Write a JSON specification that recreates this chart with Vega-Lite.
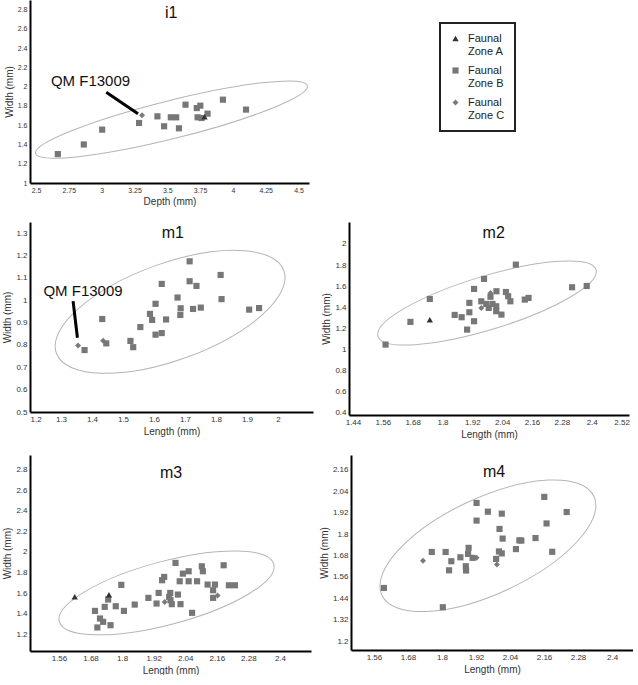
{
  "$schema": "https://vega.github.io/schema/vega-lite/v6.json",
  "padding": {"left": 2, "top": 0, "right": 0, "bottom": 0},
  "background": "white",
  "datasets": {
    "teeth": [
      {"panel": "i1", "zone": "B", "x": 2.666, "y": 1.30},
      {"panel": "i1", "zone": "B", "x": 2.864, "y": 1.40},
      {"panel": "i1", "zone": "B", "x": 3.004, "y": 1.554},
      {"panel": "i1", "zone": "B", "x": 3.285, "y": 1.623},
      {"panel": "i1", "zone": "C", "x": 3.308, "y": 1.703},
      {"panel": "i1", "zone": "B", "x": 3.425, "y": 1.692},
      {"panel": "i1", "zone": "B", "x": 3.476, "y": 1.589},
      {"panel": "i1", "zone": "B", "x": 3.527, "y": 1.682},
      {"panel": "i1", "zone": "B", "x": 3.568, "y": 1.682},
      {"panel": "i1", "zone": "B", "x": 3.589, "y": 1.568},
      {"panel": "i1", "zone": "B", "x": 3.639, "y": 1.813},
      {"panel": "i1", "zone": "B", "x": 3.725, "y": 1.778},
      {"panel": "i1", "zone": "B", "x": 3.752, "y": 1.803},
      {"panel": "i1", "zone": "B", "x": 3.731, "y": 1.682},
      {"panel": "i1", "zone": "B", "x": 3.761, "y": 1.675},
      {"panel": "i1", "zone": "B", "x": 3.807, "y": 1.72},
      {"panel": "i1", "zone": "A", "x": 3.784, "y": 1.689},
      {"panel": "i1", "zone": "B", "x": 3.924, "y": 1.865},
      {"panel": "i1", "zone": "B", "x": 4.10, "y": 1.762},

      {"panel": "m1", "zone": "C", "x": 1.355, "y": 0.797},
      {"panel": "m1", "zone": "B", "x": 1.376, "y": 0.777},
      {"panel": "m1", "zone": "B", "x": 1.433, "y": 0.916},
      {"panel": "m1", "zone": "C", "x": 1.436, "y": 0.819},
      {"panel": "m1", "zone": "B", "x": 1.446, "y": 0.807},
      {"panel": "m1", "zone": "B", "x": 1.524, "y": 0.818},
      {"panel": "m1", "zone": "B", "x": 1.533, "y": 0.790},
      {"panel": "m1", "zone": "B", "x": 1.556, "y": 0.880},
      {"panel": "m1", "zone": "B", "x": 1.587, "y": 0.939},
      {"panel": "m1", "zone": "B", "x": 1.594, "y": 0.912},
      {"panel": "m1", "zone": "B", "x": 1.605, "y": 0.984},
      {"panel": "m1", "zone": "B", "x": 1.605, "y": 0.846},
      {"panel": "m1", "zone": "B", "x": 1.625, "y": 1.073},
      {"panel": "m1", "zone": "B", "x": 1.625, "y": 0.853},
      {"panel": "m1", "zone": "B", "x": 1.639, "y": 0.914},
      {"panel": "m1", "zone": "B", "x": 1.676, "y": 1.012},
      {"panel": "m1", "zone": "B", "x": 1.686, "y": 0.964},
      {"panel": "m1", "zone": "B", "x": 1.685, "y": 0.934},
      {"panel": "m1", "zone": "B", "x": 1.715, "y": 1.174},
      {"panel": "m1", "zone": "B", "x": 1.715, "y": 1.085},
      {"panel": "m1", "zone": "B", "x": 1.726, "y": 0.961},
      {"panel": "m1", "zone": "B", "x": 1.737, "y": 1.064},
      {"panel": "m1", "zone": "B", "x": 1.751, "y": 0.967},
      {"panel": "m1", "zone": "B", "x": 1.815, "y": 1.113},
      {"panel": "m1", "zone": "B", "x": 1.818, "y": 1.005},
      {"panel": "m1", "zone": "B", "x": 1.907, "y": 0.958},
      {"panel": "m1", "zone": "B", "x": 1.939, "y": 0.965},

      {"panel": "m2", "zone": "B", "x": 1.571, "y": 1.047},
      {"panel": "m2", "zone": "B", "x": 1.671, "y": 1.262},
      {"panel": "m2", "zone": "B", "x": 1.749, "y": 1.479},
      {"panel": "m2", "zone": "A", "x": 1.749, "y": 1.282},
      {"panel": "m2", "zone": "B", "x": 1.849, "y": 1.328},
      {"panel": "m2", "zone": "B", "x": 1.877, "y": 1.306},
      {"panel": "m2", "zone": "B", "x": 1.899, "y": 1.189},
      {"panel": "m2", "zone": "B", "x": 1.908, "y": 1.353},
      {"panel": "m2", "zone": "B", "x": 1.908, "y": 1.442},
      {"panel": "m2", "zone": "B", "x": 1.927, "y": 1.574},
      {"panel": "m2", "zone": "B", "x": 1.927, "y": 1.268},
      {"panel": "m2", "zone": "C", "x": 1.956, "y": 1.394},
      {"panel": "m2", "zone": "B", "x": 1.956, "y": 1.457},
      {"panel": "m2", "zone": "B", "x": 1.967, "y": 1.669},
      {"panel": "m2", "zone": "B", "x": 1.976, "y": 1.432},
      {"panel": "m2", "zone": "B", "x": 1.986, "y": 1.394},
      {"panel": "m2", "zone": "C", "x": 1.993, "y": 1.535},
      {"panel": "m2", "zone": "B", "x": 1.993, "y": 1.50},
      {"panel": "m2", "zone": "B", "x": 2.001, "y": 1.432},
      {"panel": "m2", "zone": "B", "x": 2.016, "y": 1.410},
      {"panel": "m2", "zone": "B", "x": 2.017, "y": 1.552},
      {"panel": "m2", "zone": "B", "x": 2.016, "y": 1.363},
      {"panel": "m2", "zone": "B", "x": 2.037, "y": 1.331},
      {"panel": "m2", "zone": "B", "x": 2.055, "y": 1.545},
      {"panel": "m2", "zone": "B", "x": 2.064, "y": 1.505},
      {"panel": "m2", "zone": "B", "x": 2.073, "y": 1.457},
      {"panel": "m2", "zone": "B", "x": 2.095, "y": 1.804},
      {"panel": "m2", "zone": "B", "x": 2.131, "y": 1.473},
      {"panel": "m2", "zone": "B", "x": 2.146, "y": 1.489},
      {"panel": "m2", "zone": "B", "x": 2.321, "y": 1.590},
      {"panel": "m2", "zone": "B", "x": 2.380, "y": 1.602},

      {"panel": "m3", "zone": "B", "x": 1.697, "y": 1.429},
      {"panel": "m3", "zone": "B", "x": 1.706, "y": 1.268},
      {"panel": "m3", "zone": "B", "x": 1.716, "y": 1.355},
      {"panel": "m3", "zone": "B", "x": 1.728, "y": 1.323},
      {"panel": "m3", "zone": "B", "x": 1.734, "y": 1.468},
      {"panel": "m3", "zone": "B", "x": 1.747, "y": 1.539},
      {"panel": "m3", "zone": "B", "x": 1.756, "y": 1.290},
      {"panel": "m3", "zone": "B", "x": 1.776, "y": 1.474},
      {"panel": "m3", "zone": "B", "x": 1.797, "y": 1.681},
      {"panel": "m3", "zone": "B", "x": 1.807, "y": 1.429},
      {"panel": "m3", "zone": "B", "x": 1.848, "y": 1.490},
      {"panel": "m3", "zone": "B", "x": 1.900, "y": 1.555},
      {"panel": "m3", "zone": "B", "x": 1.931, "y": 1.500},
      {"panel": "m3", "zone": "B", "x": 1.939, "y": 1.603},
      {"panel": "m3", "zone": "B", "x": 1.952, "y": 1.726},
      {"panel": "m3", "zone": "B", "x": 1.960, "y": 1.758},
      {"panel": "m3", "zone": "C", "x": 1.962, "y": 1.516},
      {"panel": "m3", "zone": "B", "x": 1.979, "y": 1.565},
      {"panel": "m3", "zone": "B", "x": 1.983, "y": 1.603},
      {"panel": "m3", "zone": "B", "x": 1.984, "y": 1.532},
      {"panel": "m3", "zone": "B", "x": 1.989, "y": 1.494},
      {"panel": "m3", "zone": "B", "x": 2.003, "y": 1.894},
      {"panel": "m3", "zone": "B", "x": 2.012, "y": 1.587},
      {"panel": "m3", "zone": "B", "x": 2.019, "y": 1.716},
      {"panel": "m3", "zone": "B", "x": 2.022, "y": 1.494},
      {"panel": "m3", "zone": "B", "x": 2.031, "y": 1.790},
      {"panel": "m3", "zone": "B", "x": 2.053, "y": 1.813},
      {"panel": "m3", "zone": "B", "x": 2.053, "y": 1.716},
      {"panel": "m3", "zone": "B", "x": 2.066, "y": 1.410},
      {"panel": "m3", "zone": "B", "x": 2.085, "y": 1.716},
      {"panel": "m3", "zone": "B", "x": 2.103, "y": 1.861},
      {"panel": "m3", "zone": "B", "x": 2.107, "y": 1.813},
      {"panel": "m3", "zone": "B", "x": 2.125, "y": 1.684},
      {"panel": "m3", "zone": "B", "x": 2.146, "y": 1.629},
      {"panel": "m3", "zone": "B", "x": 2.153, "y": 1.684},
      {"panel": "m3", "zone": "B", "x": 2.146, "y": 1.555},
      {"panel": "m3", "zone": "C", "x": 2.163, "y": 1.577},
      {"panel": "m3", "zone": "B", "x": 2.186, "y": 1.871},
      {"panel": "m3", "zone": "B", "x": 2.206, "y": 1.677},
      {"panel": "m3", "zone": "B", "x": 2.229, "y": 1.677},
      {"panel": "m3", "zone": "A", "x": 1.620, "y": 1.565},
      {"panel": "m3", "zone": "A", "x": 1.750, "y": 1.585},

      {"panel": "m4", "zone": "B", "x": 1.595, "y": 1.498},
      {"panel": "m4", "zone": "C", "x": 1.733, "y": 1.651},
      {"panel": "m4", "zone": "B", "x": 1.764, "y": 1.700},
      {"panel": "m4", "zone": "B", "x": 1.803, "y": 1.390},
      {"panel": "m4", "zone": "B", "x": 1.813, "y": 1.700},
      {"panel": "m4", "zone": "B", "x": 1.825, "y": 1.597},
      {"panel": "m4", "zone": "B", "x": 1.833, "y": 1.648},
      {"panel": "m4", "zone": "B", "x": 1.865, "y": 1.670},
      {"panel": "m4", "zone": "B", "x": 1.884, "y": 1.620},
      {"panel": "m4", "zone": "B", "x": 1.885, "y": 1.596},
      {"panel": "m4", "zone": "B", "x": 1.894, "y": 1.723},
      {"panel": "m4", "zone": "B", "x": 1.892, "y": 1.689},
      {"panel": "m4", "zone": "C", "x": 1.922, "y": 1.667},
      {"panel": "m4", "zone": "B", "x": 1.908, "y": 1.667},
      {"panel": "m4", "zone": "B", "x": 1.922, "y": 1.975},
      {"panel": "m4", "zone": "B", "x": 1.922, "y": 1.876},
      {"panel": "m4", "zone": "B", "x": 1.962, "y": 1.926},
      {"panel": "m4", "zone": "C", "x": 1.994, "y": 1.629},
      {"panel": "m4", "zone": "B", "x": 1.991, "y": 1.661},
      {"panel": "m4", "zone": "B", "x": 2.003, "y": 1.829},
      {"panel": "m4", "zone": "B", "x": 2.001, "y": 1.703},
      {"panel": "m4", "zone": "B", "x": 2.011, "y": 1.915},
      {"panel": "m4", "zone": "B", "x": 2.014, "y": 1.775},
      {"panel": "m4", "zone": "B", "x": 2.011, "y": 1.692},
      {"panel": "m4", "zone": "B", "x": 2.061, "y": 1.716},
      {"panel": "m4", "zone": "B", "x": 2.073, "y": 1.765},
      {"panel": "m4", "zone": "B", "x": 2.080, "y": 1.764},
      {"panel": "m4", "zone": "B", "x": 2.130, "y": 1.778},
      {"panel": "m4", "zone": "B", "x": 2.161, "y": 2.009},
      {"panel": "m4", "zone": "B", "x": 2.169, "y": 1.860},
      {"panel": "m4", "zone": "B", "x": 2.189, "y": 1.701},
      {"panel": "m4", "zone": "B", "x": 2.240, "y": 1.924}
    ],
    "ellipses": [
      {"panel": "i1", "x": 3.532, "y": 1.658},
      {"panel": "m1", "x": 1.652, "y": 0.948},
      {"panel": "m2", "x": 1.979, "y": 1.441},
      {"panel": "m3", "x": 1.969, "y": 1.603},
      {"panel": "m4", "x": 1.962, "y": 1.735}
    ],
    "notes": [
      {"panel": "i1", "label": "QM F13009", "x": 2.915, "y": 2.056},
      {"panel": "m1", "label": "QM F13009", "x": 1.371, "y": 1.04}
    ],
    "pointers": [
      {"panel": "i1", "x": 3.035, "y": 1.942, "x2": 3.277, "y2": 1.72},
      {"panel": "m1", "x": 1.339, "y": 0.996, "x2": 1.353, "y2": 0.832}
    ],
    "panels": [
      {"panel": "i1", "x": 3.53, "y": 2.765},
      {"panel": "m1", "x": 1.661, "y": 1.30},
      {"panel": "m2", "x": 2.006, "y": 2.106},
      {"panel": "m3", "x": 1.986, "y": 2.766},
      {"panel": "m4", "x": 1.984, "y": 2.148}
    ]
  },
  "vconcat": [
    {
      "hconcat": [
        {
          "width": 279, "height": 183,
          "encoding": {
            "x": {"field": "x", "type": "quantitative", "scale": {"domain": [2.454, 4.58], "nice": false, "zero": false},
                  "axis": {"title": "Depth (mm)", "values": [2.5, 2.75, 3, 3.25, 3.5, 3.75, 4, 4.25, 4.5], "labelExpr": "'' + datum.value", "labelFontSize": 7}},
            "y": {"field": "y", "type": "quantitative", "scale": {"domain": [1, 2.9], "nice": false, "zero": false},
                  "axis": {"title": "Width (mm)", "values": [1, 1.2, 1.4, 1.6, 1.8, 2, 2.2, 2.4, 2.6, 2.8], "labelExpr": "'' + datum.value", "labelFontSize": 7}}
          },
          "layer": [
            {"data": {"name": "ellipses"}, "transform": [{"filter": "datum.panel === 'i1'"}],
             "mark": {"type": "point", "clip": true, "shape": "M-1,0C-1,-0.0751,-0.5523,-0.136,0,-0.136C0.5523,-0.136,1,-0.0751,1,0C1,0.0751,0.5523,0.136,0,0.136C-0.5523,0.136,-1,0.0751,-1,0Z", "size": 78400, "angle": 346, "filled": false, "stroke": "#b5b5b5", "strokeWidth": 1, "opacity": 1}},
            {"data": {"name": "teeth"}, "transform": [{"filter": "datum.panel === 'i1'"}],
             "mark": {"type": "point", "filled": true, "opacity": 1},
             "encoding": {
               "shape": {"field": "zone", "type": "nominal", "scale": {"domain": ["A", "B", "C"], "range": ["triangle-up", "square", "diamond"]},
                         "legend": {"title": null, "orient": "none", "legendX": 410, "legendY": 23, "labelExpr": "['Faunal', 'Zone ' + datum.label]"}},
               "color": {"field": "zone", "type": "nominal", "scale": {"domain": ["A", "B", "C"], "range": ["#333333", "#777777", "#7a7a7a"]},
                         "legend": {"title": null, "orient": "none", "legendX": 410, "legendY": 23, "labelExpr": "['Faunal', 'Zone ' + datum.label]"}},
               "size": {"field": "zone", "type": "nominal", "scale": {"domain": ["A", "B", "C"], "range": [40, 36, 24]}, "legend": null}
             }},
            {"data": {"name": "pointers"}, "transform": [{"filter": "datum.panel === 'i1'"}],
             "mark": {"type": "rule", "strokeWidth": 3, "color": "#000"},
             "encoding": {"x2": {"field": "x2"}, "y2": {"field": "y2"}}},
            {"data": {"name": "notes"}, "transform": [{"filter": "datum.panel === 'i1'"}],
             "mark": {"type": "text", "fontSize": 15, "font": "Liberation Sans", "color": "#111"},
             "encoding": {"text": {"field": "label"}}},
            {"data": {"name": "panels"}, "transform": [{"filter": "datum.panel === 'i1'"}],
             "mark": {"type": "text", "fontSize": 16, "font": "Liberation Sans", "color": "#111"},
             "encoding": {"text": {"field": "panel"}}}
          ]
        }
      ]
    },
    {
      "spacing": 8,
      "hconcat": [
        {
          "width": 283, "height": 190,
          "encoding": {
            "x": {"field": "x", "type": "quantitative", "scale": {"domain": [1.2, 2.113], "nice": false, "zero": false},
                  "axis": {"title": "Length (mm)", "values": [1.2, 1.3, 1.4, 1.5, 1.6, 1.7, 1.8, 1.9, 2], "labelExpr": "'' + datum.value"}},
            "y": {"field": "y", "type": "quantitative", "scale": {"domain": [0.5, 1.35], "nice": false, "zero": false},
                  "axis": {"title": "Width (mm)", "values": [0.5, 0.6, 0.7, 0.8, 0.9, 1, 1.1, 1.2, 1.3], "labelExpr": "'' + datum.value"}}
          },
          "layer": [
            {"data": {"name": "ellipses"}, "transform": [{"filter": "datum.panel === 'm1'"}],
             "mark": {"type": "point", "clip": true, "shape": "M-1,0C-1,-0.2209,-0.5523,-0.4,0,-0.4C0.5523,-0.4,1,-0.2209,1,0C1,0.2209,0.5523,0.4,0,0.4C-0.5523,0.4,-1,0.2209,-1,0Z", "size": 58564, "angle": 340, "filled": false, "stroke": "#b5b5b5", "strokeWidth": 1, "opacity": 1}},
            {"data": {"name": "teeth"}, "transform": [{"filter": "datum.panel === 'm1'"}],
             "mark": {"type": "point", "filled": true, "opacity": 1},
             "encoding": {
               "shape": {"field": "zone", "type": "nominal", "scale": {"domain": ["A", "B", "C"], "range": ["triangle-up", "square", "diamond"]}},
               "color": {"field": "zone", "type": "nominal", "scale": {"domain": ["A", "B", "C"], "range": ["#333333", "#777777", "#7a7a7a"]}},
               "size": {"field": "zone", "type": "nominal", "scale": {"domain": ["A", "B", "C"], "range": [40, 42, 24]}, "legend": null}
             }},
            {"data": {"name": "pointers"}, "transform": [{"filter": "datum.panel === 'm1'"}],
             "mark": {"type": "rule", "strokeWidth": 3, "color": "#000"},
             "encoding": {"x2": {"field": "x2"}, "y2": {"field": "y2"}}},
            {"data": {"name": "notes"}, "transform": [{"filter": "datum.panel === 'm1'"}],
             "mark": {"type": "text", "fontSize": 15, "font": "Liberation Sans", "color": "#111"},
             "encoding": {"text": {"field": "label"}}},
            {"data": {"name": "panels"}, "transform": [{"filter": "datum.panel === 'm1'"}],
             "mark": {"type": "text", "fontSize": 16, "font": "Liberation Sans", "color": "#111"},
             "encoding": {"text": {"field": "panel"}}}
          ]
        },
        {
          "width": 280, "height": 193,
          "encoding": {
            "x": {"field": "x", "type": "quantitative", "scale": {"domain": [1.424, 2.55], "nice": false, "zero": false},
                  "axis": {"title": "Length (mm)", "values": [1.44, 1.56, 1.68, 1.8, 1.92, 2.04, 2.16, 2.28, 2.4, 2.52], "labelExpr": "'' + datum.value"}},
            "y": {"field": "y", "type": "quantitative", "scale": {"domain": [0.38, 2.208], "nice": false, "zero": false},
                  "axis": {"title": "Width (mm)", "values": [0.4, 0.6, 0.8, 1, 1.2, 1.4, 1.6, 1.8, 2], "labelExpr": "'' + datum.value"}}
          },
          "layer": [
            {"data": {"name": "ellipses"}, "transform": [{"filter": "datum.panel === 'm2'"}],
             "mark": {"type": "point", "clip": true, "shape": "M-1,0C-1,-0.1298,-0.5523,-0.235,0,-0.235C0.5523,-0.235,1,-0.1298,1,0C1,0.1298,0.5523,0.235,0,0.235C-0.5523,0.235,-1,0.1298,-1,0Z", "size": 51984, "angle": 343, "filled": false, "stroke": "#b5b5b5", "strokeWidth": 1, "opacity": 1}},
            {"data": {"name": "teeth"}, "transform": [{"filter": "datum.panel === 'm2'"}],
             "mark": {"type": "point", "filled": true, "opacity": 1},
             "encoding": {
               "shape": {"field": "zone", "type": "nominal", "scale": {"domain": ["A", "B", "C"], "range": ["triangle-up", "square", "diamond"]}},
               "color": {"field": "zone", "type": "nominal", "scale": {"domain": ["A", "B", "C"], "range": ["#333333", "#777777", "#7a7a7a"]}},
               "size": {"field": "zone", "type": "nominal", "scale": {"domain": ["A", "B", "C"], "range": [40, 42, 24]}, "legend": null}
             }},
            {"data": {"name": "panels"}, "transform": [{"filter": "datum.panel === 'm2'"}],
             "mark": {"type": "text", "fontSize": 16, "font": "Liberation Sans", "color": "#111"},
             "encoding": {"text": {"field": "panel"}}}
          ]
        }
      ]
    },
    {
      "spacing": 8,
      "hconcat": [
        {
          "width": 281, "height": 196,
          "encoding": {
            "x": {"field": "x", "type": "quantitative", "scale": {"domain": [1.45, 2.518], "nice": false, "zero": false},
                  "axis": {"title": "Length (mm)", "values": [1.56, 1.68, 1.8, 1.92, 2.04, 2.16, 2.28, 2.4], "labelExpr": "'' + datum.value"}},
            "y": {"field": "y", "type": "quantitative", "scale": {"domain": [1.04, 2.94], "nice": false, "zero": false},
                  "axis": {"title": "Width (mm)", "values": [1, 1.2, 1.4, 1.6, 1.8, 2, 2.2, 2.4, 2.6, 2.8], "labelExpr": "'' + datum.value"}}
          },
          "layer": [
            {"data": {"name": "ellipses"}, "transform": [{"filter": "datum.panel === 'm3'"}],
             "mark": {"type": "point", "clip": true, "shape": "M-1,0C-1,-0.1574,-0.5523,-0.285,0,-0.285C0.5523,-0.285,1,-0.1574,1,0C1,0.1574,0.5523,0.285,0,0.285C-0.5523,0.285,-1,0.1574,-1,0Z", "size": 49284, "angle": 345, "filled": false, "stroke": "#b5b5b5", "strokeWidth": 1, "opacity": 1}},
            {"data": {"name": "teeth"}, "transform": [{"filter": "datum.panel === 'm3'"}],
             "mark": {"type": "point", "filled": true, "opacity": 1},
             "encoding": {
               "shape": {"field": "zone", "type": "nominal", "scale": {"domain": ["A", "B", "C"], "range": ["triangle-up", "square", "diamond"]}},
               "color": {"field": "zone", "type": "nominal", "scale": {"domain": ["A", "B", "C"], "range": ["#333333", "#777777", "#7a7a7a"]}},
               "size": {"field": "zone", "type": "nominal", "scale": {"domain": ["A", "B", "C"], "range": [40, 42, 24]}, "legend": null}
             }},
            {"data": {"name": "panels"}, "transform": [{"filter": "datum.panel === 'm3'"}],
             "mark": {"type": "text", "fontSize": 16, "font": "Liberation Sans", "color": "#111"},
             "encoding": {"text": {"field": "panel"}}}
          ]
        },
        {
          "width": 282, "height": 195,
          "encoding": {
            "x": {"field": "x", "type": "quantitative", "scale": {"domain": [1.479, 2.474], "nice": false, "zero": false},
                  "axis": {"title": "Length (mm)", "values": [1.56, 1.68, 1.8, 1.92, 2.04, 2.16, 2.28, 2.4], "labelExpr": "'' + datum.value"}},
            "y": {"field": "y", "type": "quantitative", "scale": {"domain": [1.15, 2.244], "nice": false, "zero": false},
                  "axis": {"title": "Width (mm)", "values": [1.2, 1.32, 1.44, 1.56, 1.68, 1.8, 1.92, 2.04, 2.16], "labelExpr": "'' + datum.value"}}
          },
          "layer": [
            {"data": {"name": "ellipses"}, "transform": [{"filter": "datum.panel === 'm4'"}],
             "mark": {"type": "point", "clip": true, "shape": "M-1,0C-1,-0.2264,-0.5523,-0.41,0,-0.41C0.5523,-0.41,1,-0.2264,1,0C1,0.2264,0.5523,0.41,0,0.41C-0.5523,0.41,-1,0.2264,-1,0Z", "size": 54756, "angle": 335, "filled": false, "stroke": "#b5b5b5", "strokeWidth": 1, "opacity": 1}},
            {"data": {"name": "teeth"}, "transform": [{"filter": "datum.panel === 'm4'"}],
             "mark": {"type": "point", "filled": true, "opacity": 1},
             "encoding": {
               "shape": {"field": "zone", "type": "nominal", "scale": {"domain": ["A", "B", "C"], "range": ["triangle-up", "square", "diamond"]}},
               "color": {"field": "zone", "type": "nominal", "scale": {"domain": ["A", "B", "C"], "range": ["#333333", "#777777", "#7a7a7a"]}},
               "size": {"field": "zone", "type": "nominal", "scale": {"domain": ["A", "B", "C"], "range": [40, 42, 24]}, "legend": null}
             }},
            {"data": {"name": "panels"}, "transform": [{"filter": "datum.panel === 'm4'"}],
             "mark": {"type": "text", "fontSize": 16, "font": "Liberation Sans", "color": "#111"},
             "encoding": {"text": {"field": "panel"}}}
          ]
        }
      ]
    }
  ],
  "spacing": 16,
  "config": {
    "font": "Liberation Sans",
    "view": {"stroke": null},
    "axis": {
      "domainColor": "#000", "domainWidth": 2, "ticks": false, "grid": false,
      "labelFont": "Liberation Sans", "labelFontSize": 8, "labelColor": "#333", "labelPadding": 3,
      "titleFont": "Liberation Sans", "titleFontSize": 10, "titleFontWeight": "normal", "titleColor": "#333", "titlePadding": 3
    },
    "legend": {
      "padding": 10, "strokeColor": "#222", "strokeWidth": 2,
      "labelFont": "Liberation Sans", "labelFontSize": 11, "labelColor": "#222",
      "symbolSize": 110, "rowPadding": 7, "labelOffset": 7, "symbolStrokeWidth": 0
    }
  }
}
